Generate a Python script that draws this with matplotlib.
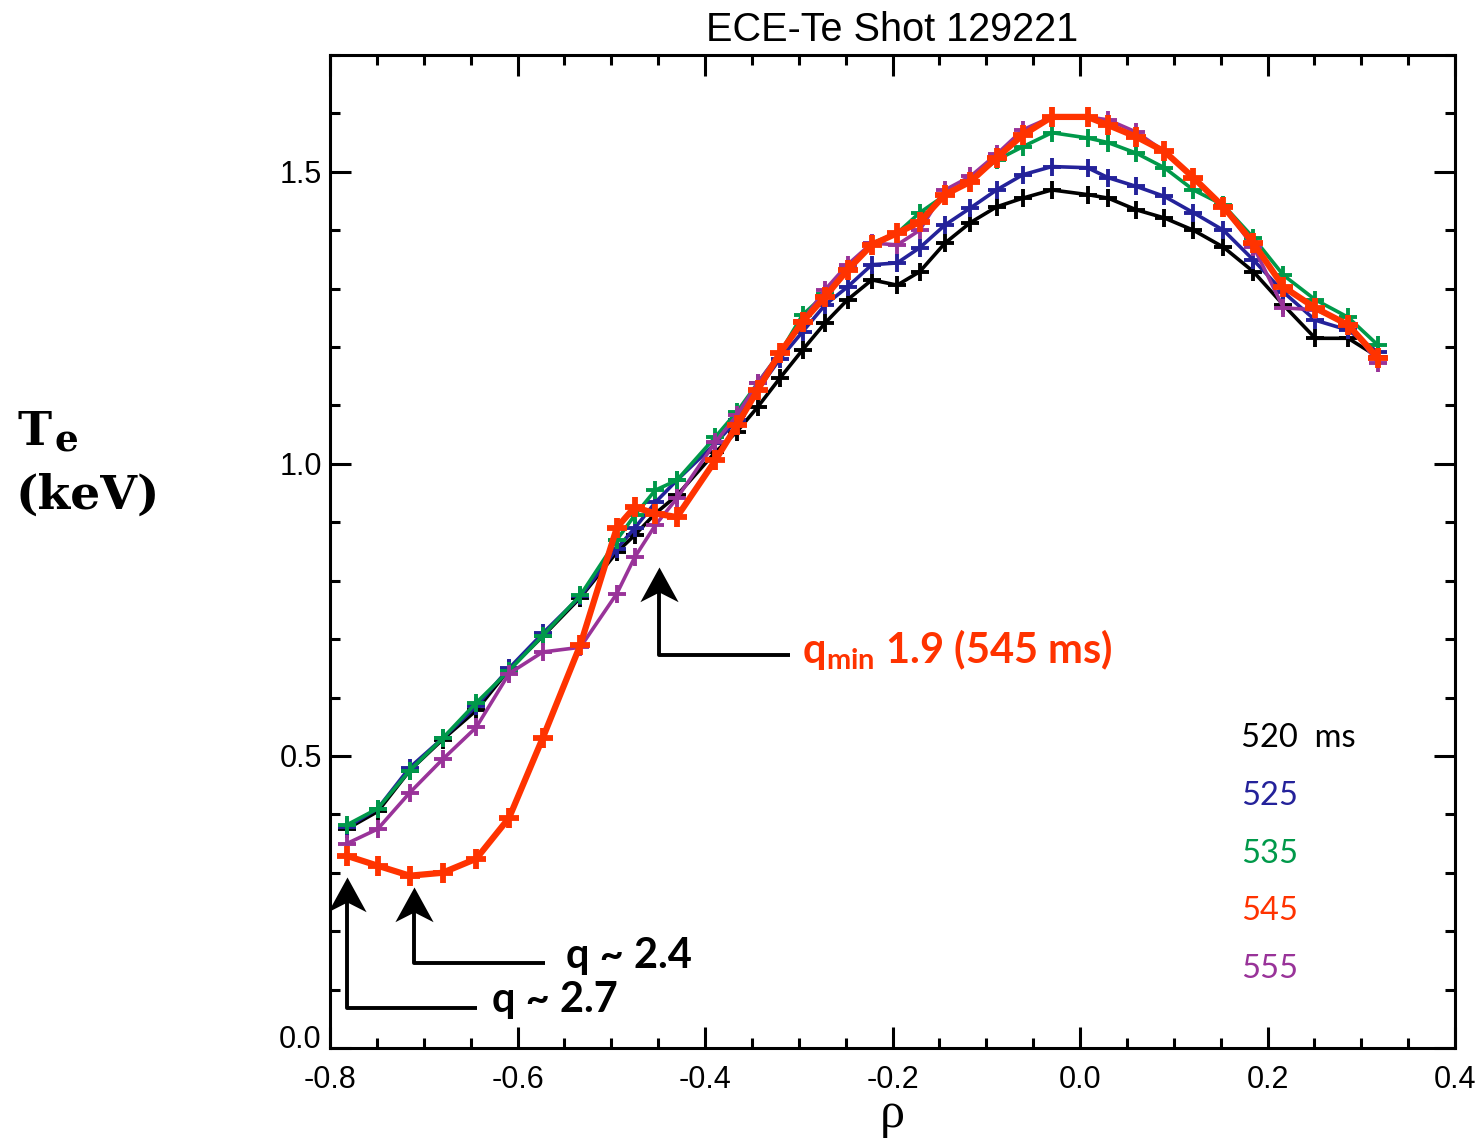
import numpy as np
import matplotlib
matplotlib.use("Agg")
import matplotlib.pyplot as plt
from matplotlib.ticker import MultipleLocator
from matplotlib.path import Path

# ECE channel positions (normalised radius)
rho = [-0.782, -0.749, -0.715, -0.680, -0.644, -0.609, -0.573, -0.533,
       -0.494, -0.475, -0.453, -0.430, -0.389, -0.366, -0.344, -0.320,
       -0.296, -0.272, -0.248, -0.222, -0.195, -0.171, -0.144, -0.117,
       -0.089, -0.061, -0.030, 0.008, 0.030, 0.060, 0.090, 0.121,
       0.153, 0.185, 0.217, 0.251, 0.286, 0.318]

te_520 = [0.375, 0.405, 0.475, 0.528, 0.578, 0.648, 0.705, 0.771, 0.849, 0.878,
          0.915, 0.946, 1.020, 1.055, 1.097, 1.147, 1.195, 1.241, 1.281, 1.315,
          1.306, 1.329, 1.378, 1.413, 1.440, 1.455, 1.469, 1.461, 1.455, 1.435,
          1.421, 1.400, 1.371, 1.329, 1.272, 1.215, 1.215, 1.183]
te_525 = [0.378, 0.410, 0.480, 0.530, 0.585, 0.650, 0.710, 0.773, 0.855, 0.890,
          0.934, 0.972, 1.035, 1.075, 1.126, 1.180, 1.226, 1.272, 1.303, 1.341,
          1.344, 1.370, 1.409, 1.438, 1.469, 1.495, 1.509, 1.507, 1.490, 1.475,
          1.458, 1.430, 1.400, 1.349, 1.294, 1.246, 1.229, 1.191]
te_535 = [0.382, 0.410, 0.475, 0.530, 0.591, 0.646, 0.706, 0.775, 0.870, 0.912,
          0.955, 0.972, 1.046, 1.089, 1.138, 1.190, 1.255, 1.290, 1.335, 1.378,
          1.395, 1.430, 1.460, 1.485, 1.520, 1.543, 1.567, 1.558, 1.550, 1.532,
          1.507, 1.469, 1.443, 1.387, 1.323, 1.281, 1.251, 1.203]
te_545 = [0.329, 0.312, 0.295, 0.300, 0.324, 0.394, 0.531, 0.690, 0.891, 0.926,
          0.915, 0.909, 1.006, 1.066, 1.126, 1.190, 1.243, 1.286, 1.332, 1.375,
          1.395, 1.414, 1.461, 1.483, 1.524, 1.563, 1.594, 1.594, 1.580, 1.560,
          1.535, 1.490, 1.440, 1.378, 1.303, 1.267, 1.238, 1.181]
te_555 = [0.350, 0.375, 0.437, 0.494, 0.549, 0.641, 0.678, 0.686, 0.778, 0.840,
          0.895, 0.941, 1.037, 1.083, 1.138, 1.190, 1.245, 1.298, 1.341, 1.378,
          1.375, 1.400, 1.469, 1.492, 1.530, 1.572, 1.594, 1.594, 1.589, 1.568,
          1.535, 1.490, 1.440, 1.372, 1.267, 1.264, 1.240, 1.173]

times = ["520  ms", "525", "535", "545", "555"]
colors = ["black", "#24229a", "#00994a", "#ff3300", "#993399"]

plt.rcParams["font.family"] = ["Liberation Sans", "DejaVu Sans"]

fig = plt.figure(figsize=(14.8, 11.46), dpi=100)
ax = fig.add_axes([330 / 1480, 1 - 1048 / 1146, 1125 / 1480, (1048 - 55) / 1146])

series = [te_520, te_525, te_535, te_555, te_545]
order = [0, 1, 2, 4, 3]
for s, i in zip(series, order):
    red = i == 3
    ax.plot(rho, s, color=colors[i], lw=4.5 if red else 2.6,
            marker="+", ms=14 if red else 13, mew=4.2 if red else 2.8)

ax.set_xlim(-0.8, 0.4)
ax.set_ylim(0.0, 1.7)
ax.xaxis.set_minor_locator(MultipleLocator(0.05))
ax.yaxis.set_minor_locator(MultipleLocator(0.1))
ax.set_xticks([-0.8, -0.6, -0.4, -0.2, 0.0, 0.2, 0.4])
ax.set_xticklabels(["-0.8", "-0.6", "-0.4", "-0.2", "0.0", "0.2", "0.4"])
ax.set_yticks([0.0, 0.5, 1.0, 1.5])
ax.set_yticklabels(["0.0", "0.5", "1.0", "1.5"])
ax.get_yticklabels()[0].set_va("baseline")
ax.tick_params(which="both", direction="in", top=True, right=True, width=2.2,
               labelsize=22)
ax.tick_params(which="major", length=15)
ax.tick_params(which="minor", length=7.5)
ax.tick_params(axis="x", pad=12)
ax.tick_params(axis="y", pad=6)
for sp in ax.spines.values():
    sp.set_linewidth(2.2)

ax.set_title("ECE-Te Shot 129221", fontsize=28.5, pad=10)
ax.set_xlabel("\u03c1", fontsize=36, family="Liberation Serif", labelpad=-2)

# y label drawn as pieces so the subscript stays bold serif
fig.text(18 / 1480, 1 - 445 / 1146, "T", fontsize=33, weight="bold",
         family="DejaVu Serif", va="baseline")
fig.text(54 / 1480, 1 - 451 / 1146, "e", fontsize=27, weight="bold",
         family="DejaVu Serif", va="baseline")
fig.text(16 / 1480, 1 - 509 / 1146, "(keV)", fontsize=34, weight="bold",
         family="DejaVu Serif", va="baseline")

# time labels
legend_y = [0.530, 0.431, 0.332, 0.234, 0.135]
for lab, c, y in zip(times, colors, legend_y):
    ax.text(0.172, y, lab, color=c, fontsize=23.5, family="Lato", va="center")

# concave arrowhead, tip at the path origin
head = Path([(0, 0), (0.55, -1.0), (0, -0.72), (-0.55, -1.0), (0, 0)],
            [Path.MOVETO, Path.LINETO, Path.LINETO, Path.LINETO, Path.CLOSEPOLY])
lk = dict(color="black", lw=2.8, solid_capstyle="butt")


def arrow(x, y_tip, y_corner, x_end):
    ax.plot([x, x, x_end], [y_tip - 0.03, y_corner, y_corner], **lk)
    ax.plot([x], [y_tip], marker=head, ms=50, color="black", mew=0,
            ls="none")


arrow(-0.449, 0.823, 0.672, -0.309)
ax.text(-0.296, 0.682, r"q$_{\mathregular{min}}$ 1.9 (545 ms)", color="#ff3300",
        fontsize=30, weight="bold", family="Lato", va="center")

arrow(-0.782, 0.292, 0.0686, -0.643)
ax.text(-0.627, 0.082, "q ~ 2.7", fontsize=30, weight="bold", family="Lato",
        va="center")

arrow(-0.710, 0.275, 0.146, -0.571)
ax.text(-0.548, 0.157, "q ~ 2.4", fontsize=30, weight="bold", family="Lato",
        va="center")

fig.savefig("out.png", dpi=100)
